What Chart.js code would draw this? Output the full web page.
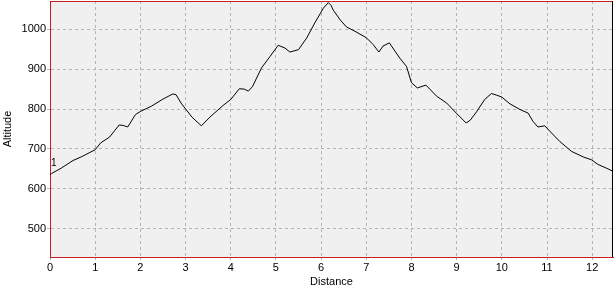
<!DOCTYPE html>
<html>
<head>
<meta charset="utf-8">
<title>Altitude profile</title>
<script src="https://cdn.jsdelivr.net/npm/chart.js@4/dist/chart.umd.min.js"></script>
<style>
    html, body { margin: 0; padding: 0; background: #ffffff; }
    #wrap { width: 614px; height: 290px; }
</style>
</head>
<body>
<div id="wrap"><canvas id="profileChart" width="614" height="290"></canvas></div>
<script>
// Track data (distance in km, altitude in m)
const distances = [
    0.0, 0.03, 0.25, 0.51, 0.69, 1.0, 1.12, 1.32, 1.53, 1.62, 1.72, 1.89,
    2.0, 2.24, 2.5, 2.72, 2.79, 2.9, 3.14, 3.35, 3.54, 3.83, 4.0, 4.19,
    4.3, 4.39, 4.48, 4.68, 4.87, 5.05, 5.2, 5.31, 5.5, 5.68, 5.86, 6.05,
    6.16, 6.22, 6.27, 6.42, 6.56, 6.75, 7.0, 7.15, 7.28, 7.37, 7.51, 7.74,
    7.89, 8.0, 8.13, 8.32, 8.56, 8.78, 8.99, 9.21, 9.3, 9.44, 9.62, 9.77,
    9.88, 10.0, 10.18, 10.4, 10.58, 10.69, 10.8, 10.95, 11.1, 11.28, 11.54, 11.8,
    11.98, 12.13, 12.31, 12.46,
];
const altitudes = [
    635, 638, 652, 671, 680, 698, 715, 730, 760, 759, 755, 786,
    794, 807, 825, 838, 836, 815, 780, 758, 780, 809, 824, 851,
    850, 845, 856, 903, 932, 960, 953, 943, 949, 978, 1016, 1053,
    1067, 1060, 1048, 1024, 1006, 995, 979, 962, 943, 958, 966, 928,
    907, 866, 853, 860, 832, 815, 790, 765, 772, 793, 824, 839,
    835, 830, 813, 799, 790, 769, 755, 758, 740, 719, 694, 680,
    673, 661, 652, 644,
];

// Y axis tick values
const altitudeTicks = [500, 600, 700, 800, 900, 1000];

// Waypoint markers (index into the track, label)
const waypointIndex = [0];
const waypointLabels = ['1'];

// Axis ranges
const xMin = 0;
const xMax = 12.46;
const yMin = 429;
const yMax = 1071;

const FONT = { family: '"Liberation Sans", Arial, sans-serif', size: 11 };

/**
 * Plot background, top/right frame and waypoint labels
 */
const framePlugin = {
    id: 'frame',
    beforeDraw(chart) {
        const { ctx, chartArea: a } = chart;
        ctx.save();
        ctx.fillStyle = '#f0f0f0';
        ctx.fillRect(a.left, a.top, a.right - a.left, a.bottom - a.top);
        ctx.restore();
    },
    afterDraw(chart) {
        const { ctx, chartArea: a, scales } = chart;
        ctx.save();
        ctx.lineWidth = 1;
        // top edge (red)
        ctx.strokeStyle = '#c81e1e';
        ctx.beginPath();
        ctx.moveTo(a.left, a.top + 0.5);
        ctx.lineTo(a.right, a.top + 0.5);
        ctx.stroke();
        // right edge (black)
        ctx.strokeStyle = '#000000';
        ctx.beginPath();
        ctx.moveTo(a.right - 0.5, a.top);
        ctx.lineTo(a.right - 0.5, a.bottom);
        ctx.stroke();
        // waypoint numbers
        ctx.fillStyle = '#000000';
        ctx.font = '10px ' + FONT.family;
        ctx.textBaseline = 'bottom';
        waypointIndex.forEach((idx, i) => {
            const px = scales.x.getPixelForValue(distances[idx]);
            const py = scales.y.getPixelForValue(altitudes[idx]);
            ctx.fillText(waypointLabels[i], px + 1, py - 7);
        });
        ctx.restore();
    },
};

function initChart() {
    const ctx = document.getElementById('profileChart').getContext('2d');
    const points = distances.map((d, i) => ({ x: d, y: altitudes[i] }));

    return new Chart(ctx, {
        type: 'line',
        data: {
            datasets: [{
                label: 'Altitude',
                data: points,
                borderColor: '#000000',
                borderWidth: 1,
                pointRadius: 0,
                tension: 0,
                fill: false,
            }],
        },
        options: {
            responsive: false,
            animation: false,
            layout: { padding: { top: 1, right: 1, left: 0, bottom: 0 } },
            plugins: {
                legend: { display: false },
                tooltip: { enabled: false },
            },
            scales: {
                x: {
                    type: 'linear',
                    min: xMin,
                    max: xMax,
                    afterFit: (scale) => {
                        scale.height = 33;
                        scale.paddingLeft = 0;
                        scale.paddingRight = 0;
                    },
                    ticks: {
                        stepSize: 1,
                        includeBounds: false,
                        maxRotation: 0,
                        padding: 1,
                        color: '#000000',
                        font: FONT,
                    },
                    grid: {
                        color: '#b4b4b4',
                        tickLength: 3,
                        tickColor: '#b4b4b4',
                    },
                    border: { color: '#c81e1e', width: 1, dash: [3, 3] },
                    title: {
                        display: true,
                        text: 'Distance',
                        color: '#000000',
                        font: FONT,
                        padding: 1,
                    },
                },
                y: {
                    min: yMin,
                    max: yMax,
                    afterFit: (scale) => {
                        scale.width = 50;
                        scale.paddingTop = 0;
                        scale.paddingBottom = 0;
                    },
                    afterBuildTicks: (scale) => {
                        scale.ticks = altitudeTicks.map(v => ({ value: v }));
                    },
                    ticks: {
                        padding: 1,
                        color: '#000000',
                        font: FONT,
                        callback: (value) => String(value),
                    },
                    grid: {
                        color: '#b4b4b4',
                        tickLength: 3,
                        tickColor: '#b4b4b4',
                    },
                    border: { color: '#c81e1e', width: 1, dash: [3, 3] },
                    title: {
                        display: true,
                        text: 'Altitude',
                        color: '#000000',
                        font: FONT,
                        padding: 1,
                    },
                },
            },
        },
        plugins: [framePlugin],
    });
}

document.addEventListener('DOMContentLoaded', () => {
    initChart();
});
</script>
</body>
</html>
